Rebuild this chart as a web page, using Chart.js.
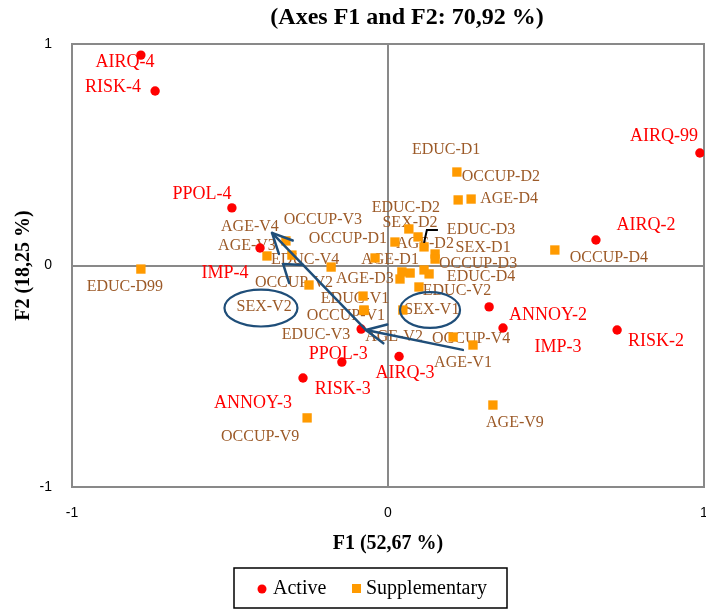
<!DOCTYPE html>
<html>
<head>
<meta charset="utf-8">
<script src="https://cdn.jsdelivr.net/npm/chart.js@4.4.1/dist/chart.umd.min.js"></script>
<style>
  html, body { margin: 0; padding: 0; background: #fff; overflow: hidden; }
  #wrap { width: 706px; height: 609px; }
</style>
</head>
<body>
<div id="wrap"><canvas id="mcaMap" width="706" height="609"></canvas></div>
<script>
// Active categories (red circles)
const activeLabels = ["AIRQ-4", "RISK-4", "PPOL-4", "IMP-4", "AIRQ-99", "AIRQ-2", "ANNOY-2",
  "IMP-3", "RISK-2", "PPOL-3", "RISK-3", "ANNOY-3", "AIRQ-3"];
const activeF1 = [-0.782, -0.737, -0.494, -0.405, 0.987, 0.658, 0.320, 0.364, 0.725, -0.085, -0.146, -0.269, 0.035];
const activeF2 = [0.950, 0.788, 0.260, 0.079, 0.508, 0.115, -0.187, -0.282, -0.291, -0.287, -0.436, -0.508, -0.411];

// Supplementary categories (orange squares)
const suppLabels = ["EDUC-D99", "OCCUP-V9", "AGE-V9", "OCCUP-V4", "AGE-V1", "OCCUP-D4", "OCCUP-D2",
  "EDUC-D1", "AGE-D4", "EDUC-D2", "SEX-D2", "OCCUP-D1", "AGE-D2", "EDUC-D3", "SEX-D1", "AGE-D1",
  "AGE-D3", "SEX-V2", "AGE-V2", "OCCUP-D3", "EDUC-D4", "EDUC-V2", "EDUC-V1", "OCCUP-V1", "SEX-V1",
  "OCCUP-V3", "AGE-V3", "AGE-V4", "EDUC-V4", "OCCUP-V2", "EDUC-V3"];
const suppF1 = [-0.782, -0.256, 0.332, 0.206, 0.269, 0.528, 0.218, 0.222, 0.263, 0.066, 0.095, 0.022,
  0.114, 0.149, 0.149, -0.041, 0.044, 0.070, 0.038, 0.114, 0.130, 0.098, -0.079, -0.076, 0.047,
  -0.323, -0.383, -0.304, -0.180, -0.250, -0.076];
const suppF2 = [-0.016, -0.688, -0.630, -0.323, -0.359, 0.070, 0.422, 0.296, 0.300, 0.165, 0.129, 0.106,
  0.084, 0.052, 0.029, 0.034, -0.029, -0.034, -0.061, -0.020, -0.038, -0.097, -0.138, -0.201, -0.201,
  0.111, 0.043, 0.047, -0.007, -0.088, -0.203];

const axisTicks = [-1, 0, 1];

// where each label sits relative to its point (px)
const labelOffsets = {
  "AIRQ-4": [-16, 7], "RISK-4": [-42, -4], "PPOL-4": [-30, -14], "IMP-4": [-35, 25],
  "AIRQ-99": [-36, -17], "AIRQ-2": [50, -15], "ANNOY-2": [59, 8], "IMP-3": [55, 19],
  "RISK-2": [39, 11], "PPOL-3": [-23, 25], "RISK-3": [1, 27], "ANNOY-3": [-50, 25], "AIRQ-3": [6, 17],
  "EDUC-D99": [-16, 18], "OCCUP-V9": [-47, 19], "AGE-V9": [22, 18], "OCCUP-V4": [18, 2],
  "AGE-V1": [-10, 18], "OCCUP-D4": [54, 8], "OCCUP-D2": [44, 5], "EDUC-D1": [-12, -50],
  "AGE-D4": [38, 0], "EDUC-D2": [-3, -21], "SEX-D2": [-8, -14], "OCCUP-D1": [-47, -3],
  "AGE-D2": [1, -3], "EDUC-D3": [46, -24], "SEX-D1": [48, -11], "AGE-D1": [15, 2],
  "AGE-D3": [-37, 7], "SEX-V2": [-146, 34], "AGE-V2": [-6, 58], "OCCUP-D3": [54, -6],
  "EDUC-D4": [52, 3], "EDUC-V2": [38, 4], "EDUC-V1": [-8, 3], "OCCUP-V1": [-18, 6],
  "SEX-V1": [29, 0], "OCCUP-V3": [37, -21], "AGE-V3": [-20, -10], "AGE-V4": [-42, -28],
  "EDUC-V4": [-26, -7], "OCCUP-V2": [-15, -2], "EDUC-V3": [-48, 24]
};

// hand drawn marks on the map, in axis units
const ellipses = [
  { cx: -0.402, cy: -0.192, rx: 0.1155, ry: 0.0835 },
  { cx: 0.133, cy: -0.201, rx: 0.095, ry: 0.081 }
];
const arrows = [
  { from: [0.237, -0.381], to: [-0.070, -0.291] },
  { from: [-0.070, -0.291], to: [-0.367, 0.147] }
];
// loose arrow head next to AGE-V3
const chevron = [[-0.269, 0.002], [-0.332, 0.007], [-0.313, -0.079]];
const leader = [[0.158, 0.160], [0.123, 0.160], [0.114, 0.102]];

const RED = "#FF0000";
const ORANGE = "#FF9A00";
const BROWN = "#9C5A28";
const NAVY = "#1F4E79";
const GREY = "#898989";

function toPts(xs, ys) {
  return xs.map((x, i) => ({ x: x, y: ys[i] }));
}

const pointLabels = {
  id: "pointLabels",
  beforeDatasetsDraw(chart) {
    const ctx = chart.ctx;
    const area = chart.chartArea;
    ctx.save();
    // plot frame
    ctx.strokeStyle = GREY;
    ctx.lineWidth = 2;
    ctx.strokeRect(area.left, area.top, area.right - area.left, area.bottom - area.top);
    ctx.textAlign = "center";
    ctx.textBaseline = "middle";
    chart.data.datasets.forEach((ds, di) => {
      const meta = chart.getDatasetMeta(di);
      ctx.fillStyle = di === 0 ? RED : BROWN;
      ctx.font = di === 0 ? "18px 'Liberation Serif'" : "16px 'Liberation Serif'";
      meta.data.forEach((pt, i) => {
        const name = ds.names[i];
        const off = labelOffsets[name] || [0, 18];
        ctx.fillText(name, pt.x + off[0], pt.y + off[1]);
      });
    });
    ctx.restore();
  },
  afterDatasetsDraw(chart) {
    const ctx = chart.ctx;
    const xs = chart.scales.x;
    const ys = chart.scales.y;
    const px = (v) => xs.getPixelForValue(v);
    const py = (v) => ys.getPixelForValue(v);
    const polyline = (pts) => {
      ctx.beginPath();
      pts.forEach((p, i) => {
        if (i === 0) ctx.moveTo(px(p[0]), py(p[1]));
        else ctx.lineTo(px(p[0]), py(p[1]));
      });
      ctx.stroke();
    };
    ctx.save();
    ctx.strokeStyle = NAVY;
    ctx.lineWidth = 2.2;
    ellipses.forEach((e) => {
      const rx = Math.abs(px(e.cx + e.rx) - px(e.cx));
      const ry = Math.abs(py(e.cy + e.ry) - py(e.cy));
      ctx.beginPath();
      ctx.ellipse(px(e.cx), py(e.cy), rx, ry, 0, 0, Math.PI * 2);
      ctx.stroke();
    });
    ctx.lineWidth = 2.5;
    ctx.lineCap = "round";
    ctx.lineJoin = "round";
    arrows.forEach((a) => {
      const x0 = px(a.from[0]), y0 = py(a.from[1]);
      const x1 = px(a.to[0]), y1 = py(a.to[1]);
      const ang = Math.atan2(y1 - y0, x1 - x0);
      ctx.beginPath();
      ctx.moveTo(x0, y0);
      ctx.lineTo(x1, y1);
      ctx.stroke();
      ctx.beginPath();
      ctx.moveTo(x1 - 22 * Math.cos(ang - 0.45), y1 - 22 * Math.sin(ang - 0.45));
      ctx.lineTo(x1, y1);
      ctx.lineTo(x1 - 22 * Math.cos(ang + 0.45), y1 - 22 * Math.sin(ang + 0.45));
      ctx.stroke();
    });
    polyline(chevron);

    // small leader line near AGE-D2
    ctx.strokeStyle = "#000";
    ctx.lineWidth = 2;
    ctx.lineCap = "butt";
    ctx.lineJoin = "miter";
    polyline(leader);

    // chart title
    ctx.fillStyle = "#000";
    ctx.font = "bold 24px 'Liberation Serif'";
    ctx.textAlign = "center";
    ctx.textBaseline = "middle";
    ctx.fillText("(Axes F1 and F2: 70,92 %)", 407, 18);

    // legend box
    const lx = 234, ly = 568, lw = 273, lh = 40;
    ctx.lineWidth = 1.5;
    ctx.strokeRect(lx, ly, lw, lh);
    ctx.font = "20px 'Liberation Serif'";
    ctx.textAlign = "left";
    ctx.fillStyle = RED;
    ctx.beginPath();
    ctx.arc(262, 589, 4.5, 0, Math.PI * 2);
    ctx.fill();
    ctx.fillStyle = "#000";
    ctx.fillText("Active", 273, 589);
    ctx.fillStyle = ORANGE;
    ctx.fillRect(352, 584, 9, 9);
    ctx.fillStyle = "#000";
    ctx.fillText("Supplementary", 366, 589);
    ctx.restore();
  }
};

const ctx = document.getElementById("mcaMap").getContext("2d");
new Chart(ctx, {
  type: "scatter",
  data: {
    datasets: [
      {
        label: "Active",
        names: activeLabels,
        data: toPts(activeF1, activeF2),
        pointStyle: "circle",
        pointRadius: 4.7,
        pointHoverRadius: 4.7,
        backgroundColor: RED,
        borderWidth: 0,
      },
      {
        label: "Supplementary",
        names: suppLabels,
        data: toPts(suppF1, suppF2),
        pointStyle: "rect",
        pointRadius: 6.6,
        pointHoverRadius: 6.6,
        backgroundColor: ORANGE,
        borderWidth: 0,
      },
    ],
  },
  options: {
    responsive: false,
    animation: false,
    events: [],
    layout: { autoPadding: false, padding: { top: 44, right: 2, left: 0, bottom: 0 } },
    plugins: {
      legend: { display: false },
      title: { display: false },
      tooltip: { enabled: false },
    },
    scales: {
      x: {
        type: "linear",
        min: -1,
        max: 1,
        afterBuildTicks: (scale) => {
          scale.ticks = axisTicks.map((v) => ({ value: v }));
        },
        ticks: {
          padding: 18,
          color: "#000",
          font: { family: "'Liberation Sans'", size: 14 },
        },
        grid: {
          drawTicks: false,
          lineWidth: 2,
          color: (c) => (c.tick && c.tick.value === 0 ? GREY : "rgba(0,0,0,0)"),
        },
        border: { display: false },
        title: {
          display: true,
          text: "F1 (52,67 %)",
          color: "#000",
          font: { family: "'Liberation Serif'", size: 20, weight: "bold" },
          padding: { top: 0, bottom: 53 },
        },
        afterFit: (scale) => {
          scale.height = 122;
          scale.paddingLeft = 0;
          scale.paddingRight = 0;
        },
      },
      y: {
        type: "linear",
        min: -1,
        max: 1,
        afterBuildTicks: (scale) => {
          scale.ticks = axisTicks.map((v) => ({ value: v }));
        },
        ticks: {
          padding: 20,
          color: "#000",
          font: { family: "'Liberation Sans'", size: 14 },
        },
        grid: {
          drawTicks: false,
          lineWidth: 2,
          color: (c) => (c.tick && c.tick.value === 0 ? GREY : "rgba(0,0,0,0)"),
        },
        border: { display: false },
        title: {
          display: true,
          text: "F2 (18,25 %)",
          color: "#000",
          font: { family: "'Liberation Serif'", size: 20, weight: "bold" },
          padding: { top: 12, bottom: 0 },
        },
        afterFit: (scale) => {
          scale.width = 72;
          scale.paddingTop = 0;
          scale.paddingBottom = 0;
        },
      },
    },
  },
  plugins: [pointLabels],
});
</script>
</body>
</html>
